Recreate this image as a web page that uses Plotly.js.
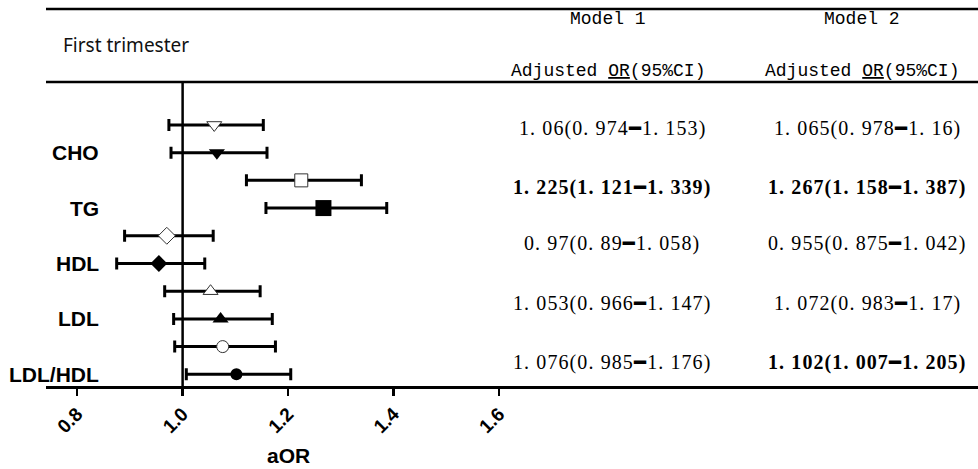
<!DOCTYPE html>
<html>
<head>
<meta charset="utf-8">
<script src="https://cdn.plot.ly/plotly-3.0.1.min.js"></script>
<style>html,body{margin:0;padding:0;background:#fff;}#chart{width:978px;height:469px;}</style>
</head>
<body>
<div id="chart"></div>
<script>
// ---- data ----
var categories = ['CHO', 'TG', 'HDL', 'LDL', 'LDL/HDL'];
var model1OR = [1.06, 1.225, 0.97, 1.053, 1.076];
var model1Lo = [0.974, 1.121, 0.89, 0.966, 0.985];
var model1Hi = [1.153, 1.339, 1.058, 1.147, 1.176];
var model2OR = [1.065, 1.267, 0.955, 1.072, 1.102];
var model2Lo = [0.978, 1.158, 0.875, 0.983, 1.007];
var model2Hi = [1.16, 1.387, 1.042, 1.17, 1.205];
var tickVals = [0.8, 1.0, 1.2, 1.4, 1.6];
var tickText = ['0.8', '1.0', '1.2', '1.4', '1.6'];

// ---- styles ----
var symbols = ['triangle-down', 'square', 'diamond', 'triangle-up', 'circle'];
var openSizes = [13, 13, 13, 13, 12];
var filledSizes = [14, 16, 13, 14, 12];
var n = categories.length;
var yOpen = [], yFilled = [];
for (var i = 0; i < n; i++) { yOpen.push(2 * (n - i)); yFilled.push(2 * (n - i) - 1); }
var textY = [9.89, 7.77, 5.74, 3.58, 1.44];

function fmt(v) { return String(v).replace('.', '. '); }
function label(or, lo, hi) {
  var s = fmt(or) + '(' + fmt(lo) + '<span style="font-family:DejaVu Sans">━</span>' + fmt(hi) + ')';
  s = '<span style="letter-spacing:1.1px">' + s + '</span>';
  return (lo > 1 || hi < 1) ? '<b>' + s + '</b>' : s;
}
function minus(a, b) { return a.map(function (v, k) { return +(v - b[k]).toFixed(4); }); }

var traces = [
  {
    type: 'scatter', mode: 'markers', x: model1OR, y: yOpen,
    error_x: { type: 'data', symmetric: false, array: minus(model1Hi, model1OR), arrayminus: minus(model1OR, model1Lo), color: '#000', thickness: 3, width: 6 },
    marker: { symbol: symbols, size: openSizes, opacity: 1, color: '#fff', line: { color: '#333', width: 1 } },
    hoverinfo: 'skip', showlegend: false
  },
  {
    type: 'scatter', mode: 'markers', x: model2OR, y: yFilled,
    error_x: { type: 'data', symmetric: false, array: minus(model2Hi, model2OR), arrayminus: minus(model2OR, model2Lo), color: '#000', thickness: 3, width: 6 },
    marker: { symbol: symbols, size: filledSizes, opacity: 1, color: '#000', line: { color: '#000', width: 0 } },
    hoverinfo: 'skip', showlegend: false
  }
];

var annotations = [];
var serif = 'Liberation Serif, serif';
var mono = 'Liberation Mono, monospace';
var hdr = { family: mono, size: 18, color: '#000' };
annotations.push({ xref: 'paper', yref: 'paper', x: 0.0161, y: 1.1217, xanchor: 'left', yanchor: 'middle', text: 'First trimester', showarrow: false, font: { family: 'Noto Sans, sans-serif', size: 19, color: '#111' } });
annotations.push({ xref: 'paper', yref: 'paper', x: 0.603, y: 1.207, xanchor: 'center', yanchor: 'middle', text: 'Model 1', showarrow: false, font: hdr });
annotations.push({ xref: 'paper', yref: 'paper', x: 0.8755, y: 1.207, xanchor: 'center', yanchor: 'middle', text: 'Model 2', showarrow: false, font: hdr });
annotations.push({ xref: 'paper', yref: 'paper', x: 0.603, y: 1.036, xanchor: 'center', yanchor: 'middle', text: 'Adjusted <u>OR</u>(95%CI)', showarrow: false, font: hdr });
annotations.push({ xref: 'paper', yref: 'paper', x: 0.8755, y: 1.036, xanchor: 'center', yanchor: 'middle', text: 'Adjusted <u>OR</u>(95%CI)', showarrow: false, font: hdr });
for (var j = 0; j < n; j++) {
  annotations.push({ xref: 'x', yref: 'y', x: 0.8455, y: yFilled[j], xanchor: 'right', yanchor: 'middle', text: '<b>' + categories[j] + '</b>', showarrow: false, font: { family: 'Liberation Sans, Arial, sans-serif', size: 21, color: '#000' } });
  annotations.push({ xref: 'paper', yref: 'y', x: 0.6073, y: textY[j], xanchor: 'center', yanchor: 'middle', text: label(model1OR[j], model1Lo[j], model1Hi[j]), showarrow: false, font: { family: serif, size: 20, color: '#000' } });
  annotations.push({ xref: 'paper', yref: 'y', x: 0.881, y: textY[j], xanchor: 'center', yanchor: 'middle', text: label(model2OR[j], model2Lo[j], model2Hi[j]), showarrow: false, font: { family: serif, size: 20, color: '#000' } });
}
annotations.push({ xref: 'x', yref: 'paper', x: 1.2, y: -0.228, xanchor: 'center', yanchor: 'middle', text: '<b>aOR</b>', showarrow: false, font: { family: 'Liberation Sans, Arial, sans-serif', size: 21, color: '#000' } });

var layout = {
  width: 978, height: 469,
  margin: { l: 46, r: 0, t: 82, b: 83 },
  paper_bgcolor: '#fff', plot_bgcolor: '#fff',
  xaxis: {
    range: [0.741, 2.508], domain: [0, 1],
    tickvals: tickVals, ticktext: tickText.map(function (t) { return '<b>' + t + '</b>'; }), tickangle: -45,
    ticks: 'outside', ticklen: 7, tickwidth: 2.5, tickcolor: '#000',
    showline: true, linewidth: 2.5, linecolor: '#000',
    showgrid: false, zeroline: false,
    tickfont: { family: 'Liberation Sans, Arial, sans-serif', size: 19, color: '#000' }
  },
  yaxis: { range: [0.578, 11.55], showticklabels: false, showgrid: false, zeroline: false, showline: false, ticks: '' },
  shapes: [
    { type: 'line', xref: 'paper', yref: 'paper', x0: 0, x1: 1, y0: 1.24, y1: 1.24, line: { color: '#000', width: 2.5 } },
    { type: 'line', xref: 'paper', yref: 'paper', x0: 0, x1: 1, y0: 1.0, y1: 1.0, line: { color: '#000', width: 2.5 } },
    { type: 'line', xref: 'x', yref: 'paper', x0: 1, x1: 1, y0: 0, y1: 1, line: { color: '#000', width: 2.5 }, layer: 'below' }
  ],
  annotations: annotations
};

Plotly.newPlot('chart', traces, layout, { staticPlot: true, displayModeBar: false });
</script>
</body>
</html>
